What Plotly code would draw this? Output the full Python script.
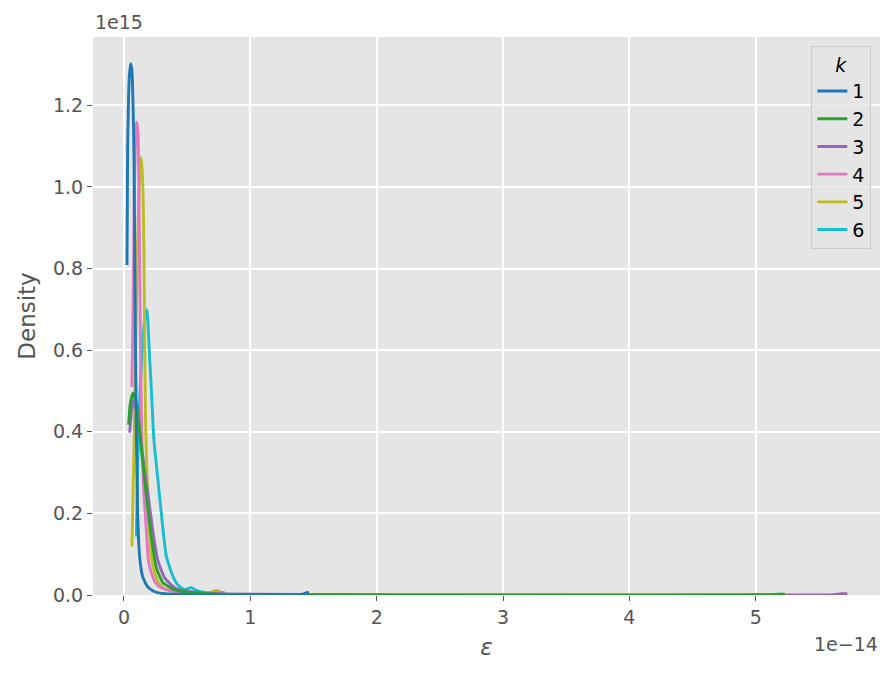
import plotly.graph_objects as go

# KDE curves of epsilon per k (x in units of 1e-14, density in units of 1e15)
k_labels = ["1", "2", "3", "4", "5", "6"]
k_colors = ["#1f77b4", "#2ca02c", "#9467bd", "#e377c2", "#bcbd22", "#17becf"]

eps_k1 = [0.024, 0.027, 0.029, 0.036, 0.043, 0.053, 0.063, 0.071, 0.079, 0.085, 0.090, 0.098,
          0.108, 0.124, 0.148, 0.188, 0.243, 0.322, 0.60, 1.00, 1.40, 1.44, 1.464]
dens_k1 = [0.809, 0.968, 1.090, 1.212, 1.274, 1.302, 1.286, 1.212, 1.090, 0.846, 0.650, 0.405,
           0.201, 0.094, 0.045, 0.020, 0.008, 0.003, 0.0007, 0.0003, 0.0005, 0.005, 0.006]

eps_k2 = [0.037, 0.049, 0.071, 0.093, 0.116, 0.138, 0.164, 0.190, 0.217, 0.256, 0.309, 0.401,
          0.52, 0.76, 1.39, 3.0, 5.10, 5.18, 5.23]
dens_k2 = [0.417, 0.466, 0.495, 0.478, 0.429, 0.356, 0.282, 0.208, 0.142, 0.067, 0.030, 0.013,
           0.006, 0.002, 0.0007, 0.0003, 0.0005, 0.002, 0.002]

eps_k3 = [0.045, 0.060, 0.077, 0.100, 0.132, 0.164, 0.196, 0.227, 0.267, 0.322, 0.401, 0.52,
          0.84, 3.0, 5.60, 5.68, 5.725]
dens_k3 = [0.398, 0.450, 0.478, 0.453, 0.380, 0.306, 0.233, 0.160, 0.086, 0.042, 0.018, 0.008,
           0.002, 0.0003, 0.0005, 0.003, 0.003]

eps_k4 = [0.063, 0.073, 0.081, 0.089, 0.097, 0.103, 0.112, 0.119, 0.127, 0.134, 0.142, 0.156,
          0.177, 0.196, 0.217, 0.243, 0.283, 0.362, 0.52, 0.678, 0.742, 0.797]
dens_k4 = [0.510, 0.723, 0.968, 1.090, 1.151, 1.159, 1.127, 0.968, 0.723, 0.527, 0.380, 0.258,
           0.159, 0.079, 0.055, 0.033, 0.020, 0.011, 0.006, 0.004, 0.007, 0.006]

eps_k5 = [0.063, 0.081, 0.093, 0.106, 0.120, 0.135, 0.148, 0.158, 0.164, 0.172, 0.184, 0.199,
          0.227, 0.267, 0.322, 0.52, 0.678, 0.731, 0.773]
dens_k5 = [0.119, 0.380, 0.600, 0.846, 0.993, 1.073, 1.017, 0.846, 0.625, 0.404, 0.282, 0.160,
           0.074, 0.033, 0.015, 0.006, 0.006, 0.011, 0.006]

eps_k6 = [0.098, 0.108, 0.124, 0.144, 0.164, 0.182, 0.190, 0.203, 0.217, 0.237, 0.269, 0.309,
          0.336, 0.388, 0.425, 0.48, 0.533, 0.575, 0.639, 0.797]
dens_k6 = [0.143, 0.307, 0.478, 0.600, 0.674, 0.699, 0.667, 0.583, 0.502, 0.380, 0.282, 0.160,
           0.094, 0.045, 0.025, 0.013, 0.018, 0.011, 0.006, 0.003]

eps_all = [eps_k1, eps_k2, eps_k3, eps_k4, eps_k5, eps_k6]
dens_all = [dens_k1, dens_k2, dens_k3, dens_k4, dens_k5, dens_k6]

x_ticks = [0, 1, 2, 3, 4, 5]
y_ticks = [0.0, 0.2, 0.4, 0.6, 0.8, 1.0, 1.2]

grey = "#555555"
fig = go.Figure()

# drawn from 6 down to 1 so that k=1 sits on top
for i in reversed(range(len(k_labels))):
    fig.add_trace(go.Scatter(x=eps_all[i], y=dens_all[i], mode="lines", name=k_labels[i],
                             legendgroup=k_labels[i],
                             line=dict(color=k_colors[i], width=2.9, shape="spline", smoothing=0.5)))

# page body adds 8px around the figure, so the figure is 8px smaller each way
fig.update_layout(
    width=888, height=668,
    margin=dict(l=85, r=16, t=29, b=81),
    paper_bgcolor="white", plot_bgcolor="#E5E5E5",
    font=dict(family="DejaVu Sans", size=19, color=grey),
    showlegend=True,
    legend=dict(x=0.989, y=0.983, xanchor="right", yanchor="top",
                bgcolor="rgba(229,229,229,0.8)", bordercolor="#CCCCCC", borderwidth=1,
                traceorder="reversed", font=dict(size=19, color="black"),
                title=dict(text="<i>k</i>", side="top center", font=dict(size=19, color="black")),
                entrywidth=65, tracegroupgap=2),
    annotations=[
        dict(text="1e15", x=0, y=1, xref="paper", yref="paper", xanchor="left", yanchor="bottom",
             showarrow=False, yshift=2, font=dict(size=19, color=grey)),
        dict(text="1e\u221214", x=1, y=0, xref="paper", yref="paper", xanchor="right", yanchor="top",
             showarrow=False, yshift=-36, font=dict(size=19, color=grey)),
    ],
)

fig.update_xaxes(range=[-0.245, 5.983], tickvals=x_ticks, ticks="outside", ticklen=5,
                 tickcolor=grey, showgrid=True, gridcolor="white", gridwidth=1.6,
                 zeroline=False, showline=False,
                 title=dict(text="<i>\u03b5</i>", font=dict(size=23, color=grey), standoff=12))
fig.update_yaxes(range=[0, 1.3675], tickvals=y_ticks, tickformat=".1f", ticks="outside", ticklen=5,
                 tickcolor=grey, showgrid=True, gridcolor="white", gridwidth=1.6,
                 zeroline=False, showline=False,
                 title=dict(text="Density", font=dict(size=23, color=grey), standoff=10))

fig.write_html("out.html")
